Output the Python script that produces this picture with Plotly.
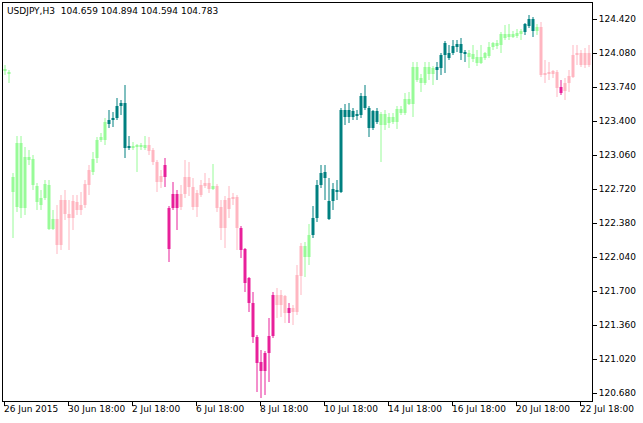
import plotly.graph_objects as go

high = [123.96,123.91,122.88,123.25,123.25,123.14,123.11,123.06,122.78,122.71,122.81,122.81,122.51,122.56,122.66,122.71,122.61,122.66,122.66,122.69,
122.81,122.96,123.09,123.24,123.28,123.43,123.51,123.49,123.63,123.61,123.76,123.25,123.19,123.17,123.18,123.25,123.24,123.13,123.01,122.91,
123.03,122.55,122.79,122.71,122.76,123.01,122.99,122.83,122.71,122.81,122.88,122.83,122.97,122.77,122.61,122.65,122.75,122.68,122.66,122.35,
122.13,121.84,121.69,121.26,121.11,121.10,121.43,121.69,121.73,121.71,121.66,121.58,121.56,121.96,122.18,122.19,122.37,122.55,122.81,122.96,
122.96,122.83,122.78,122.81,123.53,123.57,123.58,123.53,123.51,123.68,123.76,123.55,123.51,123.53,123.49,123.51,123.48,123.48,123.55,123.55,
123.68,123.69,123.99,123.99,123.87,123.99,123.99,123.95,123.99,124.08,124.20,124.16,124.21,124.21,124.23,124.11,124.11,124.16,124.11,124.16,
124.09,124.19,124.19,124.21,124.29,124.36,124.37,124.30,124.32,124.32,124.38,124.46,124.44,124.37,124.39,124.01,123.99,123.91,123.91,123.81,
123.83,123.91,124.16,124.16,124.11,124.13,124.16]
body_top = [123.92,123.89,122.84,123.18,123.18,123.04,123.04,123.02,122.75,122.63,122.77,122.76,122.42,122.42,122.61,122.61,122.47,122.60,122.59,122.56,
122.77,122.91,123.02,123.21,123.24,123.39,123.41,123.43,123.55,123.58,123.58,123.15,123.15,123.15,123.16,123.16,123.16,123.11,122.99,122.85,
122.96,122.53,122.67,122.67,122.67,122.84,122.84,122.74,122.68,122.76,122.78,122.78,122.75,122.75,122.54,122.61,122.63,122.64,122.64,122.33,
122.12,121.83,121.58,121.24,120.99,121.08,121.25,121.66,121.66,121.66,121.65,121.53,121.53,121.86,122.15,122.15,122.26,122.43,122.76,122.88,
122.89,122.60,122.72,122.71,123.51,123.51,123.51,123.50,123.47,123.65,123.65,123.53,123.50,123.50,123.47,123.47,123.44,123.44,123.52,123.52,
123.62,123.62,123.94,123.94,123.83,123.94,123.94,123.93,123.94,124.06,124.18,124.08,124.15,124.17,124.17,124.08,124.08,124.07,124.04,124.04,
124.08,124.14,124.18,124.18,124.27,124.27,124.27,124.27,124.28,124.30,124.37,124.42,124.42,124.34,124.34,123.88,123.88,123.90,123.89,123.74,
123.78,123.85,124.06,124.08,124.08,124.08,124.08]
body_bottom = [123.90,123.87,122.69,122.54,122.53,122.53,123.01,122.76,122.59,122.56,122.63,122.32,122.32,122.16,122.16,122.47,122.43,122.43,122.51,122.51,
122.56,122.76,122.89,123.03,123.21,123.21,123.37,123.41,123.43,123.55,123.13,123.13,123.13,123.14,123.14,123.13,123.10,122.99,122.79,122.79,
122.84,122.12,122.53,122.53,122.54,122.67,122.74,122.54,122.54,122.66,122.75,122.72,122.72,122.53,122.33,122.33,122.52,122.62,122.33,122.11,
121.78,121.58,121.24,120.98,120.90,120.90,121.08,121.25,121.56,121.56,121.48,121.48,121.49,121.49,121.85,122.04,122.04,122.26,122.43,122.76,
122.83,122.42,122.60,122.69,122.69,123.44,123.44,123.44,123.45,123.46,123.53,123.33,123.33,123.39,123.36,123.36,123.38,123.39,123.39,123.48,
123.48,123.57,123.57,123.81,123.78,123.78,123.87,123.87,123.91,123.93,124.06,124.03,124.08,124.14,124.08,124.07,124.04,124.02,123.98,123.98,
124.03,124.05,124.14,124.15,124.16,124.23,124.24,124.24,124.25,124.27,124.29,124.35,124.30,124.30,123.86,123.86,123.87,123.87,123.73,123.68,
123.70,123.78,123.84,124.06,123.96,123.96,123.96]
low = [123.86,123.78,122.23,122.49,122.43,122.46,122.96,122.71,122.51,122.51,122.61,122.31,122.31,122.07,122.11,122.41,122.11,122.31,122.46,122.46,
122.53,122.66,122.86,122.98,123.19,123.16,123.33,123.34,123.41,123.46,123.03,123.11,123.11,122.89,123.11,123.11,123.06,122.96,122.69,122.73,
122.74,121.99,122.51,122.31,122.51,122.63,122.65,122.51,122.44,122.64,122.73,122.68,122.71,122.49,122.21,122.13,122.43,122.56,122.11,122.03,
121.69,121.49,121.18,120.69,120.63,120.66,120.79,121.23,121.43,121.44,121.38,121.38,121.36,121.46,121.66,121.84,121.96,122.23,122.39,122.73,
122.61,122.41,122.51,122.61,122.68,123.36,123.38,123.41,123.41,123.43,123.51,123.24,123.31,123.37,122.99,123.31,123.33,123.37,123.32,123.46,
123.46,123.56,123.44,123.79,123.69,123.76,123.81,123.76,123.81,123.86,123.88,124.01,124.06,124.09,124.01,123.99,123.93,123.99,123.95,123.97,
124.01,124.03,124.11,124.12,124.08,124.21,124.21,124.23,124.23,124.21,124.26,124.33,124.24,124.26,123.84,123.78,123.81,123.83,123.64,123.66,
123.61,123.69,123.83,123.96,123.94,123.93,123.94]
trend = ("g"*13 + "p"*9 + "g"*4 + "t"*6 + "g"*4 + "p"*4 + "d"*4 + "p"*8 + "g" + "p"*6 +
         "d"*9 + "p"*3 + "d" + "p"*3 + "g"*2 + "t"*17 + "g"*14 + "t"*8 + "g"*14 + "t"*3 +
         "g" + "p"*5 + "d" + "p"*7)
tick_idx = [0, 16, 32, 48, 64, 80, 96, 112, 128, 144]
tick_text = ["26 Jun 2015", "30 Jun 18:00", "2 Jul 18:00", "6 Jul 18:00", "8 Jul 18:00",
             "10 Jul 18:00", "14 Jul 18:00", "16 Jul 18:00", "20 Jul 18:00", "22 Jul 18:00"]
y_ticks = [120.68, 121.02, 121.36, 121.70, 122.04, 122.38, 122.72, 123.06, 123.40, 123.74, 124.08, 124.42]

colors = {"g": "#98FB98", "t": "#008080", "p": "#FFB6C1", "d": "#E8209A"}

fig = go.Figure()
for key, col in colors.items():
    idx = [i for i, c in enumerate(trend) if c == key]
    wx, wy = [], []
    for i in idx:
        wx += [i, i, None]
        wy += [low[i], high[i], None]
    fig.add_scatter(x=wx, y=wy, mode="lines", line=dict(color=col, width=1),
                    hoverinfo="skip")
    fig.add_bar(x=idx, base=[body_bottom[i] for i in idx],
                y=[max(body_top[i] - body_bottom[i], 0.012) for i in idx],
                width=0.75, marker=dict(color=col, line_width=0), hoverinfo="skip")

tv = [t - 0.25 for t in tick_idx]
for t, s in zip(tv, tick_text):
    fig.add_annotation(x=t, y=0, xref="x", yref="paper", yanchor="top", xanchor="left",
                       text=s, showarrow=False, yshift=-1, xshift=-2,
                       font=dict(family="DejaVu Sans", size=9, color="black"))
fig.add_annotation(x=0, y=1, xref="paper", yref="paper", xanchor="left", yanchor="top",
                   text="USDJPY,H3  104.659 104.894 104.594 104.783", showarrow=False,
                   xshift=2, yshift=-1, font=dict(family="DejaVu Sans", size=9, color="black"))

fig.update_layout(
    width=643, height=423, margin=dict(l=3, r=51, t=3, b=22),
    paper_bgcolor="white", plot_bgcolor="white", barmode="overlay", showlegend=False,
    xaxis=dict(range=[-0.5, 146.75], tickvals=tv, ticktext=[""] * len(tv), ticks="outside",
               ticklen=4, tickcolor="black", showgrid=False, zeroline=False,
               showline=True, linecolor="black", mirror=True),
    yaxis=dict(range=[120.60, 124.58], side="right", tickvals=y_ticks,
               ticktext=[f"{v:.3f}" for v in y_ticks], ticks="outside", ticklen=4,
               tickcolor="black", showgrid=False, zeroline=False, showline=True,
               linecolor="black", mirror=True,
               tickfont=dict(family="DejaVu Sans", size=9, color="black")),
)
fig.write_html("out.html", config={"displayModeBar": False},
               post_script="document.body.style.margin='0';")
